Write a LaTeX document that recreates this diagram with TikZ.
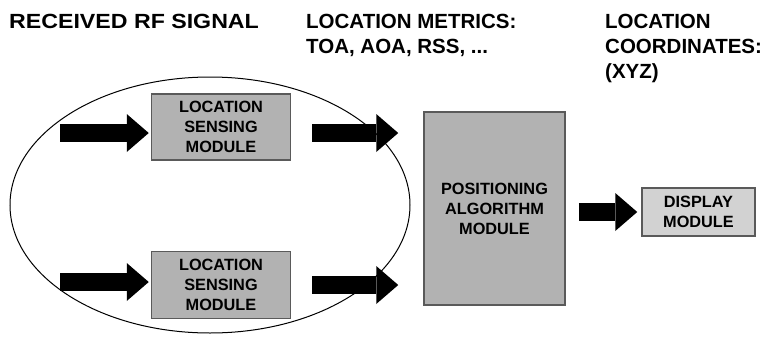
\documentclass[tikz,border=0pt]{standalone}
\usepackage{fontspec}
\setmainfont{Liberation Sans}
\newfontfamily\stretchedsans[FakeStretch=1.13]{Liberation Sans}
\usepackage{xcolor}
\usetikzlibrary{positioning, arrows.meta, shapes.geometric}

\definecolor{modgray}{HTML}{B2B2B2}
\definecolor{dispgray}{HTML}{D2D2D2}
\definecolor{modedge}{HTML}{5A5A5A}
\newcommand{\headfont}{\bfseries\fontsize{20.5}{25}\selectfont}
\newcommand{\wideheadfont}{\stretchedsans\bfseries\fontsize{20.5}{25}\selectfont}
\newcommand{\modfont}{\bfseries\fontsize{16.3}{20}\selectfont}

\begin{document}
\begin{tikzpicture}[x=1pt, y=-1pt,
  header/.style={anchor=base west, align=left, inner sep=0pt, font=\headfont},
  module/.style={draw=modedge, fill=modgray, line width=1.5pt, align=center, inner sep=0pt, font=\modfont},
  bigarrow/.style={line width=18pt, -{Triangle[length=22pt, width=38pt, line width=0pt]}}]
\useasboundingbox (0,0) rectangle (769,338);
% headers, anchored at the baseline of their last line
\node[header, font=\wideheadfont] (rfsig) at (9,28) {RECEIVED RF SIGNAL};
\node[header] (metrics) at (306,53) {LOCATION METRICS:\\TOA, AOA, RSS, ...};
\node[header] (coords) at (605,78) {LOCATION\\COORDINATES:\\(XYZ)};
\node[draw, ellipse, line width=1pt, minimum width=400pt, minimum height=256pt, inner sep=0pt] (sensors) at (210,205) {};
\node[module, minimum width=139pt, minimum height=66pt] (lsm1) at (221,127) {LOCATION\\SENSING\\MODULE};
\node[module, minimum width=139pt, minimum height=67pt, below=90pt of lsm1] (lsm2) {LOCATION\\SENSING\\MODULE};
\node[module, minimum width=141pt, minimum height=193pt] (pam) at (494.5,208.5) {POSITIONING\\ALGORITHM\\MODULE};
\node[module, fill=dispgray, minimum width=113pt, minimum height=48pt] (disp) at (698.5,212) {DISPLAY\\MODULE};
\coordinate (rf1) at (60,133);
\coordinate (rf2) at (60,282);
\draw[bigarrow, shorten >=2pt] (rf1) -- (rf1 -| lsm1.west);
\draw[bigarrow, shorten >=2pt] (rf2) -- (rf2 -| lsm2.west);
\draw[bigarrow, shorten <=21pt, shorten >=25pt] (rf1 -| lsm1.east) -- (rf1 -| pam.west);
\draw[bigarrow, shorten <=21pt, shorten >=25pt] (lsm2.east) -- (lsm2.east -| pam.west);
\draw[bigarrow, shorten <=13pt, shorten >=4pt] (disp.west -| pam.east) -- (disp.west);
\end{tikzpicture}
\end{document}
